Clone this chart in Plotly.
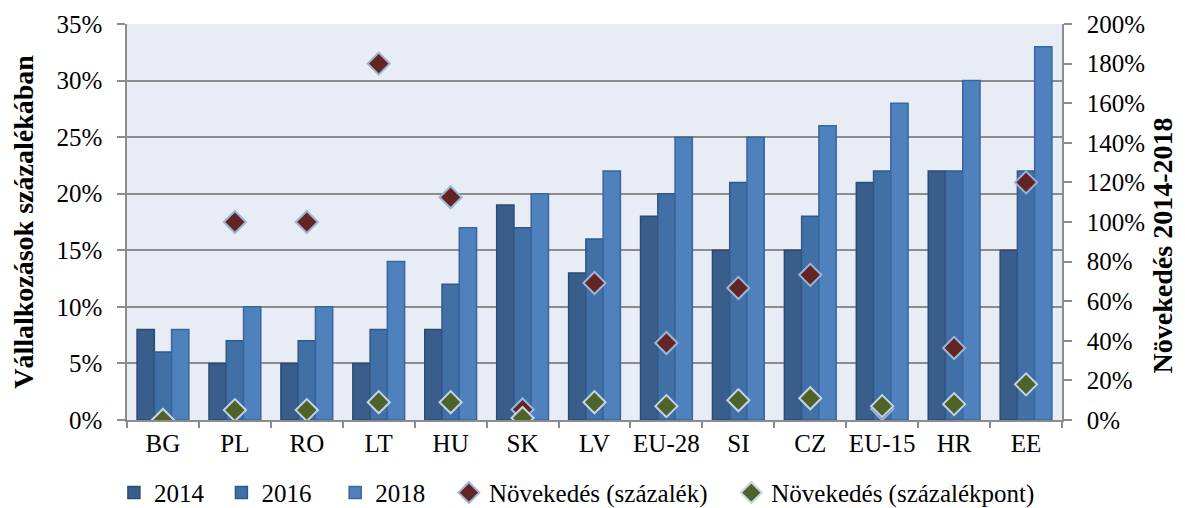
import plotly.graph_objects as go

categories = ["BG", "PL", "RO", "LT", "HU", "SK", "LV", "EU-28", "SI", "CZ", "EU-15", "HR", "EE"]
v2014 = [0.08, 0.05, 0.05, 0.05, 0.08, 0.19, 0.13, 0.18, 0.15, 0.15, 0.21, 0.22, 0.15]
v2016 = [0.06, 0.07, 0.07, 0.08, 0.12, 0.17, 0.16, 0.20, 0.21, 0.18, 0.22, 0.22, 0.22]
v2018 = [0.08, 0.10, 0.10, 0.14, 0.17, 0.20, 0.22, 0.25, 0.25, 0.26, 0.28, 0.30, 0.33]
growth_pct = [0.0, 1.00, 1.00, 1.80, 1.125, 0.053, 0.692, 0.389, 0.667, 0.733, 0.055, 0.364, 1.20]
growth_pp = [0.0, 0.05, 0.05, 0.09, 0.09, 0.01, 0.09, 0.07, 0.10, 0.11, 0.07, 0.08, 0.18]
series_names = ["2014", "2016", "2018", "Növekedés (százalék)", "Növekedés (százalékpont)"]
left_title = "Vállalkozások százalékában"
right_title = "Növekedés 2014-2018"

FONT = "Liberation Serif, Times New Roman, serif"
NB = "\u00a0"

# page has an 8px body margin: figure is drawn 8px in from top/left
W, H = 1177, 500
L, T = 119, 16
R, B = W - 1054, H - 412

fig = go.Figure()
bar_styles = [(series_names[0] + NB * 2, v2014, "#395E8C", "#2C4B72"),
              (series_names[1] + NB * 3, v2016, "#4170A7", "#30598A"),
              (series_names[2] + NB * 3, v2018, "#4F81BD", "#38679F")]
for name, vals, col, line in bar_styles:
    fig.add_trace(go.Bar(x=categories, y=vals, name=name,
                         marker=dict(color=col, line=dict(color=line, width=1.5)),
                         yaxis="y"))

fig.add_trace(go.Scatter(x=categories, y=growth_pct, name=series_names[3] + NB * 3,
                         mode="markers", yaxis="y2",
                         marker=dict(symbol="diamond", size=17, color="#632523",
                                     line=dict(color="#9DB5D6", width=2))))
fig.add_trace(go.Scatter(x=categories, y=growth_pp, name=series_names[4],
                         mode="markers", yaxis="y2",
                         marker=dict(symbol="diamond", size=17, color="#4F6228",
                                     line=dict(color="#C5D3E6", width=2))))

fig.update_layout(
    width=W, height=H,
    margin=dict(l=L, r=R, t=T, b=B, autoexpand=False),
    paper_bgcolor="white", plot_bgcolor="#E8ECF4",
    font=dict(family=FONT, size=25, color="black"),
    barmode="group", bargap=0.28, bargroupgap=0,
    showlegend=True,
    legend=dict(orientation="h", x=-0.014, xanchor="left", y=-0.184, yanchor="middle",
                font=dict(family=FONT, size=25), traceorder="normal",
                tracegroupgap=0, bgcolor="rgba(0,0,0,0)"),
    xaxis=dict(type="category", range=[-0.5, 12.5], showgrid=False, ticks="outside",
               tickson="boundaries", ticklen=6, tickwidth=1.5, tickcolor="#8C8C8C",
               showline=True, linecolor="#8C8C8C", linewidth=1.5, tickangle=0,
               tickfont=dict(family=FONT, size=25), automargin=False),
    yaxis=dict(range=[0, 0.35], dtick=0.05, tickformat=".0%", showgrid=True,
               gridcolor="#8C8C8C", gridwidth=1.5, ticks="outside", ticklen=8, tickwidth=1.5,
               tickcolor="#8C8C8C", showline=True, linecolor="#8C8C8C", linewidth=1.5,
               zeroline=False, automargin=False, tickfont=dict(family=FONT, size=25),
               ticklabelstandoff=10,
               title=dict(text="<b>" + left_title + "</b>",
                          font=dict(family=FONT, size=28), standoff=15)),
    yaxis2=dict(range=[0, 2.0], dtick=0.2, tickformat=".0%", overlaying="y", side="right",
                showgrid=False, ticks="outside", ticklen=8, tickwidth=1.5, tickcolor="#8C8C8C",
                showline=True, linecolor="#8C8C8C", linewidth=1.5, zeroline=False,
                automargin=False, tickfont=dict(family=FONT, size=25),
                ticklabelstandoff=10),
    annotations=[dict(text="<b>" + right_title + "</b>", textangle=-90,
                      xref="paper", yref="paper", x=1.1085, y=0.442,
                      xanchor="center", yanchor="middle", showarrow=False,
                      font=dict(family=FONT, size=28, color="black"))],
)

fig.write_html("out.html")
